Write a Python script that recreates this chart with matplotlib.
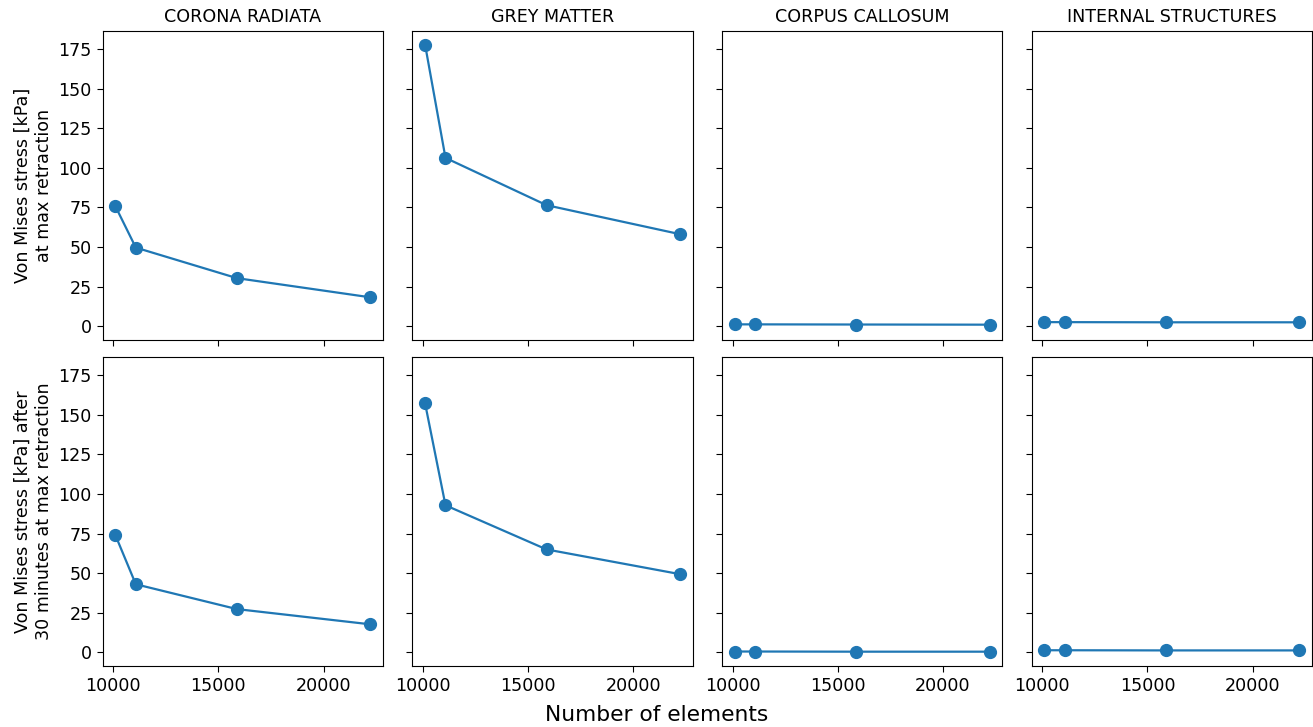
import numpy as np
import matplotlib
matplotlib.use("Agg")
import matplotlib.pyplot as plt

# data
n_elements = [10100, 11070, 15880, 22220]
regions = ["CORONA RADIATA", "GREY MATTER", "CORPUS CALLOSUM", "INTERNAL STRUCTURES"]
stress_max = [
    [75.7, 49.6, 30.3, 18.2],     # corona radiata
    [177.8, 106.3, 76.4, 58.1],   # grey matter
    [1.1, 1.1, 1.0, 0.9],         # corpus callosum
    [2.5, 2.5, 2.4, 2.4],         # internal structures
]
stress_30min = [
    [74.0, 43.0, 27.3, 17.7],
    [157.3, 92.9, 65.0, 49.4],
    [0.5, 0.5, 0.4, 0.4],
    [1.3, 1.3, 1.2, 1.2],
]
row_labels = ["Von Mises stress [kPa]\nat max retraction",
              "Von Mises stress [kPa] after\n30 minutes at max retraction"]

fig, axes = plt.subplots(2, 4, figsize=(13.13, 7.27), dpi=100, sharex=True, sharey=True)
rows = [stress_max, stress_30min]
for r in range(2):
    for c in range(4):
        ax = axes[r, c]
        ax.plot(n_elements, rows[r][c], 'o-', color='tab:blue', lw=1.6, ms=8.5)
        ax.tick_params(labelsize=12.6, length=4.5)
        if r == 0:
            ax.set_title(regions[c], fontsize=12.6)
    axes[r, 0].set_ylabel(row_labels[r], fontsize=12.6)

axes[0, 0].set_yticks([0, 25, 50, 75, 100, 125, 150, 175])
axes[0, 0].set_xticks([10000, 15000, 20000])
fig.supxlabel("Number of elements", fontsize=15.7, y=0.003)
plt.subplots_adjust(left=0.0782, right=0.9992, top=0.9578, bottom=0.0843, wspace=0.105, hspace=0.0563)
plt.savefig("out.png")
